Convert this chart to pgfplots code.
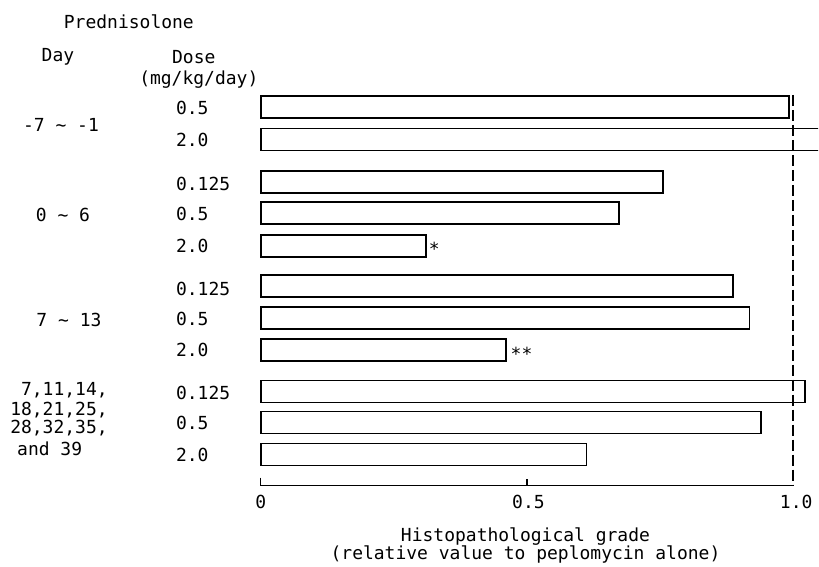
\documentclass[border=0pt]{standalone}
\usepackage{pgfplots}
\pgfplotsset{compat=1.18}
\usepackage{fontspec}
\setmainfont{DejaVu Sans Mono}
\begin{document}
\begin{tikzpicture}[font=\fontsize{18}{21}\selectfont]
\begin{axis}[
  at={(0,0)}, anchor=south west,
  width=819pt, height=566pt, scale only axis,
  xmin=-0.48968, xmax=1.04690,
  ymin=0, ymax=566, y dir=reverse,
  axis line style={draw=none},
  xtick=\empty, ytick=\empty,
  clip mode=individual,
]
\addplot[xbar, bar width=22, bar shift=0pt, draw=black, fill=white, line width=1.7pt]
coordinates {
(0.992,107) (1.10,139.5)
(0.756,182) (0.673,213.5) (0.310,246)
(0.887,286.5) (0.918,318.5) (0.461,350.5)
(1.022,392) (0.940,423) (0.612,455)
};
\draw[dash pattern=on 11pt off 4pt, line width=1.6pt] (axis cs:1,95) -- (axis cs:1,486);
\draw[line width=1.5pt] (axis cs:0,478) -- (axis cs:0,486) -- (axis cs:1,486);
\draw[line width=1.5pt] (axis cs:0.5,486) -- (axis cs:0.5,479);
\end{axis}
\begin{scope}[x=1pt,y=-1pt,yshift=566pt]
\node at (129,22) {Prednisolone};
\node at (58,57) {Day};
\node at (194,57) {Dose};
\node at (199,80) {(mg/kg/day)};
% dose labels
\foreach \yy/\tt in {108/0.5,140/2.0,184/0.125,214/0.5,246/2.0,289/0.125,319/0.5,350/2.0,393/0.125,423/0.5,455/2.0}
  \node[anchor=west, inner sep=0pt] at (176,\yy) {\tt};
% day labels
\node at (61,125) {-7 \textasciitilde{} -1};
\node at (63,215) {0 \textasciitilde{} 6};
\node at (69,320) {7 \textasciitilde{} 13};
\node[anchor=east, inner sep=0pt] at (108,391) {7,11,14,};
\node[anchor=east, inner sep=0pt] at (108,410) {18,21,25,};
\node[anchor=east, inner sep=0pt] at (108,429) {28,32,35,};
\node[anchor=west, inner sep=0pt] at (17,449) {and 39};
% asterisks
\node[anchor=west, inner sep=0pt] at (429,249) {*};
\node[anchor=west, inner sep=0pt] at (511,354) {**};
% tick labels
\node at (261,502) {0};
\node at (529,502) {0.5};
\node at (797,502) {1.0};
% axis label
\node at (526,537) {Histopathological grade};
\node at (526,555) {(relative value to peplomycin alone)};
\end{scope}
\end{tikzpicture}
\end{document}
